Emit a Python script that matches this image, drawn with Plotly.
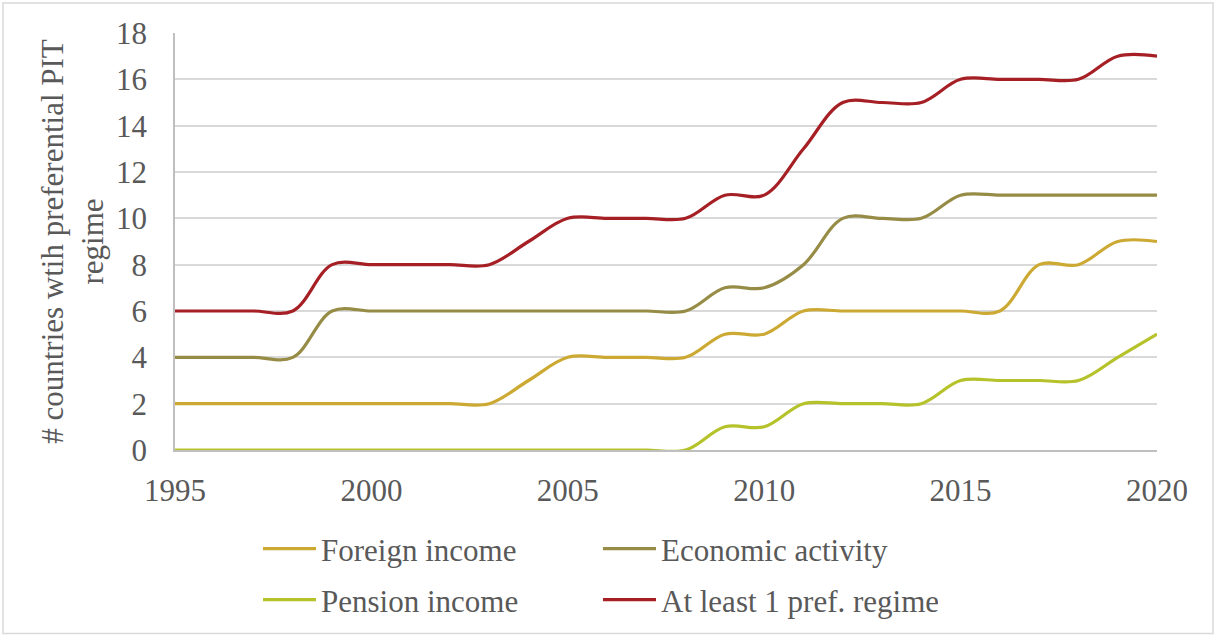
import plotly.graph_objects as go

years = list(range(1995, 2021))
foreign_income = [2, 2, 2, 2, 2, 2, 2, 2, 2, 3, 4, 4, 4, 4, 5, 5, 6, 6, 6, 6, 6, 6, 8, 8, 9, 9]
economic_activity = [4, 4, 4, 4, 6, 6, 6, 6, 6, 6, 6, 6, 6, 6, 7, 7, 8, 10, 10, 10, 11, 11, 11, 11, 11, 11]
pension_income = [0, 0, 0, 0, 0, 0, 0, 0, 0, 0, 0, 0, 0, 0, 1, 1, 2, 2, 2, 2, 3, 3, 3, 3, 4, 5]
at_least_one = [6, 6, 6, 6, 8, 8, 8, 8, 8, 9, 10, 10, 10, 10, 11, 11, 13, 15, 15, 15, 16, 16, 16, 16, 17, 17]

x_ticks = [1995, 2000, 2005, 2010, 2015, 2020]
y_ticks = [0, 2, 4, 6, 8, 10, 12, 14, 16, 18]

FONT = "Liberation Serif"
TXT = "#595959"
FS = 31

series = [
    ("Foreign income", foreign_income, "#CCA933", "legend"),
    ("Economic activity", economic_activity, "#968C46", "legend"),
    ("Pension income", pension_income, "#B5C22A", "legend2"),
    ("At least 1 pref. regime", at_least_one, "#A51F25", "legend2"),
]

fig = go.Figure()
for name, vals, color, lg in series:
    fig.add_trace(go.Scatter(
        x=years, y=vals, name=name, mode="lines",
        line=dict(color=color, width=3.2, shape="spline", smoothing=1.0),
        legend=lg,
    ))

L, R, T, B = 175, 59, 33, 186
W, H = 1216, 637
pw, ph = W - L - R, H - T - B

def px_x(p):
    return (p - L) / pw

def px_y(p):
    return (H - B - p) / ph

legend_common = dict(
    orientation="h", xanchor="left", yanchor="middle",
    font=dict(family=FONT, size=FS, color=TXT),
    entrywidth=272, entrywidthmode="pixels",
    bgcolor="rgba(0,0,0,0)", itemwidth=53,
)

fig.update_layout(
    width=W, height=H,
    margin=dict(l=L, r=R, t=T, b=B),
    paper_bgcolor="white", plot_bgcolor="white",
    font=dict(family=FONT, size=FS, color=TXT),
    showlegend=True,
    legend=dict(x=px_x(258), y=px_y(549), **legend_common),
    legend2=dict(x=px_x(258), y=px_y(600), **legend_common),
    xaxis=dict(
        range=[1995, 2020], tickvals=x_ticks, ticktext=[str(v) for v in x_ticks],
        showgrid=False, zeroline=False,
        showline=True, linecolor="#BFBFBF", linewidth=1.5,
        ticks="outside", ticklen=12, tickcolor="rgba(0,0,0,0)",
        tickfont=dict(family=FONT, size=FS, color=TXT),
    ),
    yaxis=dict(
        range=[0, 18], tickvals=y_ticks,
        showgrid=True, gridcolor="#D9D9D9", gridwidth=1.5,
        zeroline=False,
        showline=True, linecolor="#BFBFBF", linewidth=1.5,
        ticks="outside", ticklen=20, tickcolor="rgba(0,0,0,0)",
        tickfont=dict(family=FONT, size=FS, color=TXT),
        title=dict(text="# countries wtih preferential PIT<br>regime",
                   font=dict(family=FONT, size=FS, color=TXT), standoff=3),
        automargin=False,
    ),
    shapes=[dict(
        type="rect", xref="paper", yref="paper",
        x0=px_x(3), x1=px_x(1213), y0=px_y(635), y1=px_y(3),
        line=dict(color="#D9D9D9", width=1.5), fillcolor="rgba(0,0,0,0)",
        layer="below",
    )],
)

fig.write_html("out.html", config={"displayModeBar": False},
               post_script="document.body.style.margin='0';")
